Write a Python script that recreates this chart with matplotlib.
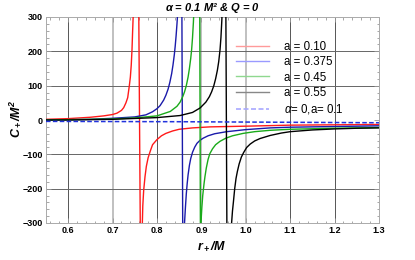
import matplotlib
matplotlib.use("Agg")
import matplotlib.pyplot as plt
from matplotlib.lines import Line2D
from matplotlib.ticker import MultipleLocator

# ---- data (r+/M, C+/M^2) ----
red_r = [0.55, 0.60, 0.65, 0.68, 0.70, 0.71, 0.72, 0.725, 0.73, 0.734, 0.7377,
         0.740, 0.742, 0.7437, 0.745, 0.7463, 0.7475,
         0.7588, 0.7625, 0.766, 0.767, 0.768, 0.770, 0.773, 0.776, 0.780, 0.785,
         0.790, 0.800, 0.810, 0.820, 0.835, 0.850, 0.880, 0.920, 1.000, 1.100,
         1.200, 1.300]
red_c = [2, 4, 8, 12, 16, 20, 28, 36, 50, 65, 100,
         125, 160, 205, 255, 300, 340,
         340, -340, -340, -300, -250, -205, -165, -135, -110, -90,
         -72, -57, -46, -39, -32, -27, -23, -20, -18, -15,
         -14, -13]

blue_r = [0.55, 0.60, 0.65, 0.70, 0.75, 0.775, 0.79, 0.80, 0.807, 0.815, 0.82,
          0.825, 0.829, 0.833, 0.836, 0.839, 0.841, 0.843, 0.845, 0.8465, 0.8475,
          0.856, 0.858, 0.861, 0.862, 0.864, 0.866, 0.868, 0.870, 0.873, 0.876,
          0.880, 0.885, 0.890, 0.897, 0.904, 0.915, 0.930, 0.957, 1.000, 1.055,
          1.100, 1.200, 1.300]
blue_c = [0, 1, 2, 5, 9, 15, 24, 33, 42, 58, 72,
          90, 110, 135, 160, 190, 215, 245, 280, 310, 340,
          340, -340, -340, -300, -255, -215, -185, -160, -132, -112,
          -94, -79, -68, -59, -53, -46, -40, -34, -28, -23,
          -21, -19, -17]

green_r = [0.55, 0.60, 0.70, 0.75, 0.80, 0.83, 0.845, 0.852, 0.858, 0.862,
           0.866, 0.870, 0.873, 0.876, 0.878, 0.880, 0.882, 0.8828, 0.8835,
           0.8962, 0.8978, 0.898, 0.899, 0.901, 0.903, 0.906, 0.908, 0.911,
           0.915, 0.919, 0.925, 0.932, 0.942, 0.955, 0.970, 0.994, 1.020,
           1.055, 1.100, 1.200, 1.300]
green_c = [0, 1, 3, 6, 12, 25, 40, 52, 68, 82,
           100, 125, 150, 180, 205, 240, 285, 310, 340,
           340, -340, -340, -300, -255, -220, -185, -165, -140,
           -115, -98, -84, -72, -62, -53, -46, -39, -34,
           -30, -27, -24, -22]

black_r = [0.55, 0.60, 0.70, 0.80, 0.852, 0.88, 0.897, 0.910, 0.918, 0.923,
           0.928, 0.932, 0.936, 0.939, 0.942, 0.944, 0.946, 0.9468, 0.9475,
           0.955, 0.9575, 0.966, 0.968, 0.970, 0.972, 0.975, 0.978, 0.981,
           0.985, 0.990, 0.995, 1.002, 1.010, 1.020, 1.032, 1.055, 1.080,
           1.100, 1.150, 1.200, 1.250, 1.300]
black_c = [0, 0, 2, 7, 13, 22, 35, 52, 68, 82,
           100, 120, 145, 170, 205, 240, 290, 320, 340,
           340, -340, -340, -300, -265, -240, -200, -170, -150,
           -128, -108, -95, -80, -70, -61, -54, -45, -38,
           -34, -29, -26, -24, -23]

dash_r = [0.55, 0.70, 0.85, 1.00, 1.15, 1.30]
dash_c = [-4, -4.5, -5, -6, -7, -8]

labels = ["a = 0.10", "a = 0.375", "a = 0.45", "a = 0.55", r"$\alpha$= 0,a= 0.1"]
x_ticks = [0.6, 0.7, 0.8, 0.9, 1.0, 1.1, 1.2, 1.3]
y_ticks = [-300, -200, -100, 0, 100, 200, 300]

plt.rcParams['font.family'] = ['Liberation Sans', 'DejaVu Sans']
plt.rcParams['mathtext.fontset'] = 'custom'
plt.rcParams['mathtext.it'] = 'Liberation Sans:italic'
plt.rcParams['mathtext.bf'] = 'Liberation Sans:bold:italic'
plt.rcParams['mathtext.rm'] = 'Liberation Sans'

fig = plt.figure(figsize=(4.15, 2.6), dpi=100)
ax = fig.add_axes([46/415, 1-223/260, 333/415, 206/260])

# grid lines
for xv in [0.6, 0.8, 1.1, 1.2]:
    ax.axvline(xv, color='#555555', lw=0.7, zorder=1)
for xv in [0.7, 0.9, 1.0]:
    ax.axvline(xv, color='#bbbbbb', lw=1.3, zorder=1)
for yv in [-200, -100, 100, 200]:
    ax.axhline(yv, color='#666666', lw=0.7, zorder=1)

lw = 1.0
ax.plot(red_r, red_c, color='#ff1a1a', lw=lw, zorder=3)
ax.plot(blue_r, blue_c, color='#1a1aaa', lw=lw, zorder=3)
ax.plot(green_r, green_c, color='#1aaa1a', lw=lw, zorder=3)
ax.plot(black_r, black_c, color='black', lw=lw, zorder=3)
ax.plot(dash_r, dash_c, color='#2233dd', lw=1.1, ls=(0, (3, 1.5)), zorder=4)

ax.set_xlim(0.55, 1.3)
ax.set_ylim(-300, 300)
ax.set_xticks(x_ticks)
ax.set_yticks(y_ticks)
ax.xaxis.set_minor_locator(MultipleLocator(0.02))
ax.yaxis.set_minor_locator(MultipleLocator(20))
ax.tick_params(which='both', direction='in', top=True, right=True, color='#999999', width=0.6)
ax.tick_params(which='major', length=3.5, labelsize=6.5, pad=2.5)
ax.tick_params(which='minor', length=1.8)
for lab in ax.get_xticklabels() + ax.get_yticklabels():
    lab.set_fontweight('bold')
for s in ax.spines.values():
    s.set_color('#aaaaaa')
    s.set_linewidth(0.7)

fig.text(212/415, 1-8/260, r"$\mathbf{\alpha}$ = 0.1 M² & Q = 0", fontsize=8, fontweight='bold',
         style='italic', ha='center', va='center')
fig.text(212/415, 1-246/260, r"$\mathbf{r_+/M}$", fontsize=9, ha='center', va='center')
fig.text(15/415, 1-119/260, r"$\mathbf{C_+/M^2}$", fontsize=9, ha='center', va='center',
         rotation=90)

handles = [
    Line2D([], [], color='#ff9a9a', lw=1.0),
    Line2D([], [], color='#9a9aff', lw=1.0),
    Line2D([], [], color='#8fd88f', lw=1.0),
    Line2D([], [], color='#888888', lw=1.0),
    Line2D([], [], color='#a8a8ff', lw=1.2, ls=(0, (3, 1.5))),
]
leg = ax.legend(handles, labels, loc='upper left', bbox_to_anchor=((231-46)/333, (223-36)/206),
                frameon=False, fontsize=8.3, handlelength=2.9, handletextpad=1.3,
                labelspacing=0.3, borderaxespad=0)

fig.savefig("out.png", dpi=100)
